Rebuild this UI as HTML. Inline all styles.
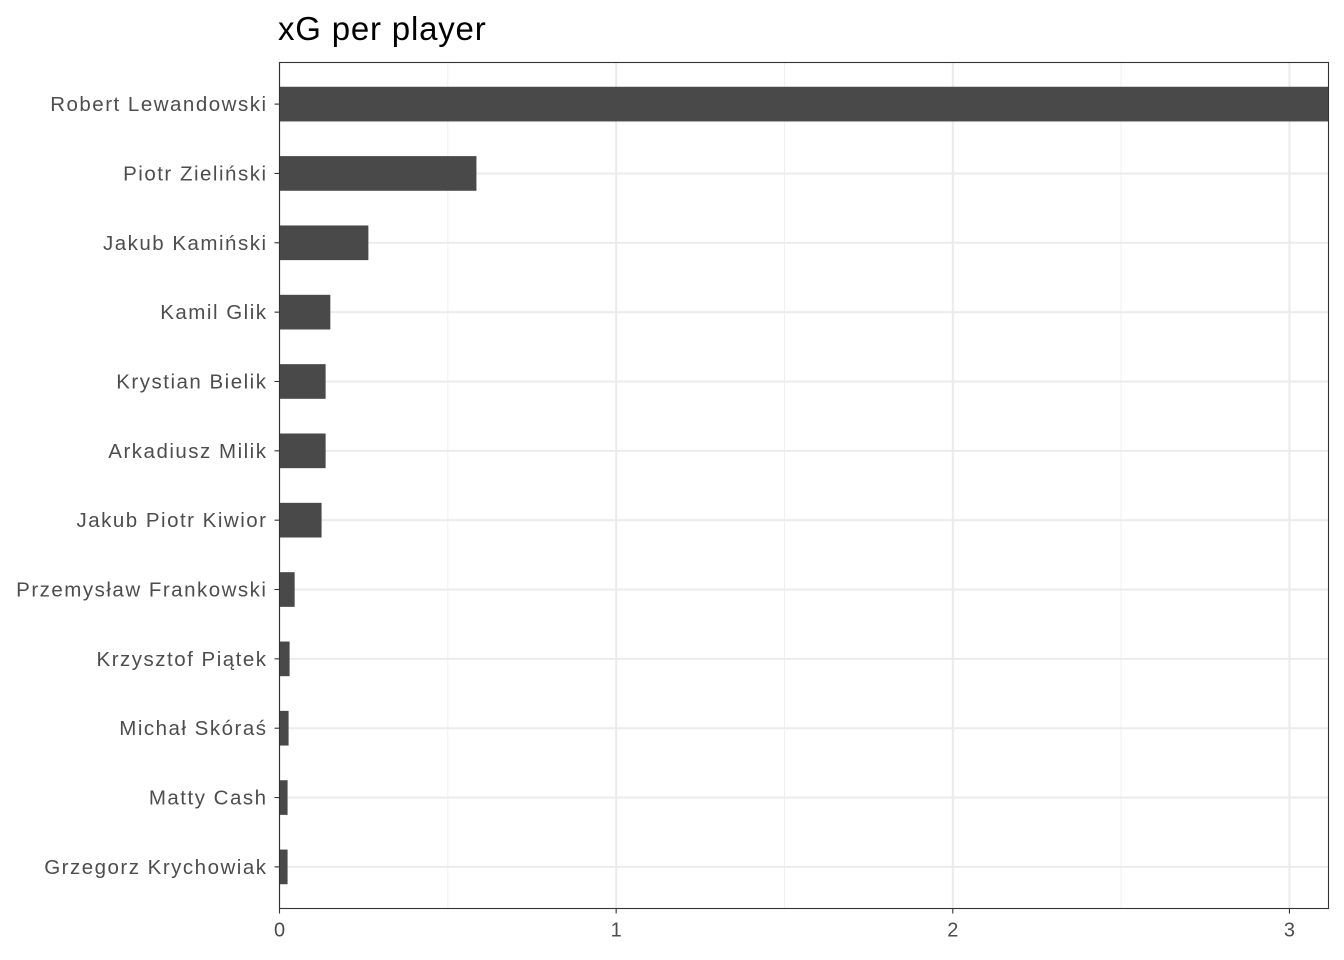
<!DOCTYPE html>
<html><head><meta charset="utf-8"><style>
body{margin:0;background:#fff;}
svg{display:block;font-family:"Liberation Sans",Arial,sans-serif;}
</style></head><body>
<svg id="chart" width="1344" height="960">
<text x="278" y="40" font-size="33" letter-spacing="0.8" fill="#000">xG per player</text>
<g id="grid"></g><g id="bars"></g><g id="axes"></g>
<rect x="279.5" y="62.5" width="1049" height="846" fill="none" stroke="#333" stroke-width="1.1"/>
</svg>
<script>
const players=["Robert Lewandowski","Piotr Zieliński","Jakub Kamiński","Kamil Glik","Krystian Bielik","Arkadiusz Milik","Jakub Piotr Kiwior","Przemysław Frankowski","Krzysztof Piątek","Michał Skóraś","Matty Cash","Grzegorz Krychowiak"];
const xgValues=[3.116,0.585,0.264,0.151,0.137,0.137,0.125,0.045,0.030,0.027,0.024,0.024];
const xTicks=[0,1,2,3];
const xMinor=[0.5,1.5,2.5];
const NS="http://www.w3.org/2000/svg";
const L=279.5,R=1328.5,T=62.5,B=908.5;
const xMax=3.116;
const x=v=>L+v/xMax*(R-L);
const step=(B-T)/(players.length-1+1.2);
const y=i=>T+step*(0.6+i);
const bh=step*0.5;
function mk(tag,attrs,parent){const e=document.createElementNS(NS,tag);for(const k in attrs)e.setAttribute(k,attrs[k]);parent.appendChild(e);return e;}
const g=document.getElementById('grid'),b=document.getElementById('bars'),a=document.getElementById('axes');
xMinor.forEach(v=>{const l=mk('line',{x1:x(v),x2:x(v),y1:T,y2:B,stroke:'#f0f0f0','stroke-width':1},g);

});
xTicks.forEach(v=>{const l=mk('line',{x1:x(v),x2:x(v),y1:T,y2:B,stroke:'#ebebeb','stroke-width':2},g);


const t=mk('line',{x1:x(v),x2:x(v),y1:B,y2:B+5,stroke:'#333','stroke-width':1.1},a);


const tx=mk('text',{x:x(v),y:B+28,'text-anchor':'middle','font-size':20,fill:'#4d4d4d'},a);tx.textContent=v;

});
players.forEach((p,i)=>{const cy=y(i);
const l=mk('line',{x1:L,x2:R,y1:cy,y2:cy,stroke:'#ebebeb','stroke-width':2},g);


const r=mk('rect',{x:L,y:cy-bh/2,width:Math.min(x(xgValues[i]),R)-L,height:bh,fill:'#494949'},b);


const t=mk('line',{x1:L-5,x2:L,y1:cy,y2:cy,stroke:'#333','stroke-width':1.1},a);


const tx=mk('text',{x:L-12,y:cy+7,'text-anchor':'end','font-size':20.5,'letter-spacing':1.5,fill:'#4d4d4d'},a);tx.textContent=p;

});
</script>
</body></html>
